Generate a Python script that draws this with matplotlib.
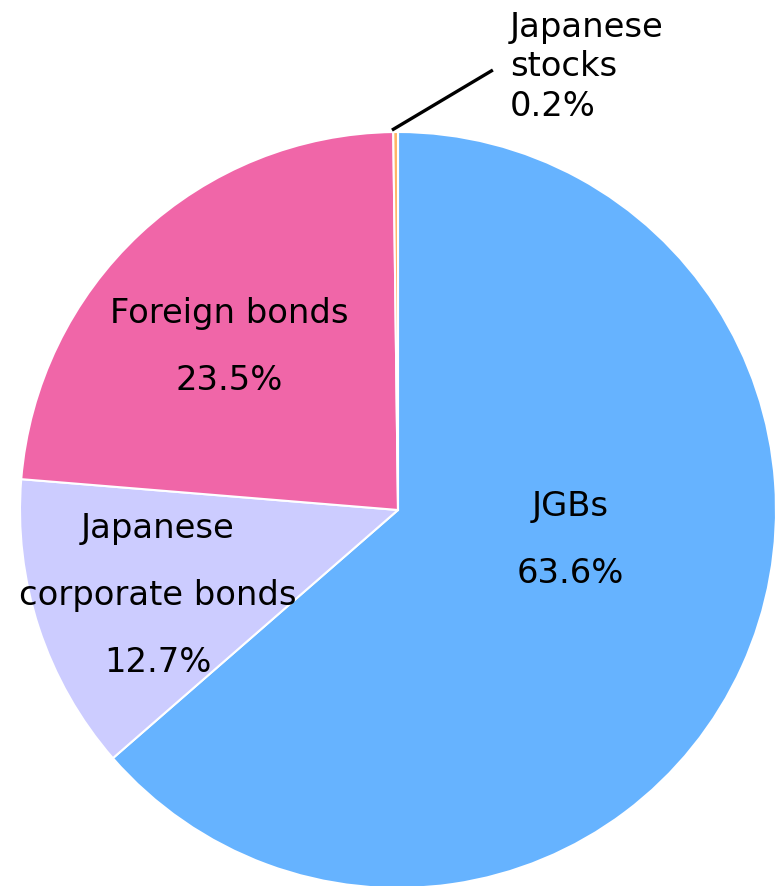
import matplotlib
matplotlib.use("Agg")
import matplotlib.pyplot as plt

# Portfolio composition (percent of total)
categories = ["JGBs", "Japanese\ncorporate bonds", "Foreign bonds", "Japanese\nstocks"]
shares = [63.6, 12.7, 23.5, 0.2]
colors = ["#66B3FF", "#CCCCFF", "#F066A8", "#FFB366"]

W, H = 776, 886
fig = plt.figure(figsize=(W / 100, H / 100), dpi=100)
cx, cy, r = 398, 510, 378
ax = fig.add_axes([(cx - r) / W, (H - cy - r) / H, 2 * r / W, 2 * r / H])
ax.set_aspect("equal")
ax.axis("off")

wedges, _ = ax.pie(shares, colors=colors, startangle=90, counterclock=False,
                   radius=1, center=(0, 0),
                   wedgeprops=dict(edgecolor="white", linewidth=1.5))
ax.set_xlim(-1, 1)
ax.set_ylim(-1, 1)
for w in wedges:
    w.set_clip_on(False)

fs = 24.3
font = "DejaVu Sans"

# In-slice labels: name lines then value
def inside(x, y_top, lines, step=0.177):
    for i, t in enumerate(lines):
        ax.text(x, y_top - i * step, t, ha="center", va="center",
                fontsize=fs, family=font, color="black")

inside(0.455, 0.008, ["JGBs", f"{shares[0]:.1f}%"])
inside(-0.635, -0.05, ["Japanese", "corporate bonds", f"{shares[1]:.1f}%"])
inside(-0.447, 0.52, ["Foreign bonds", f"{shares[2]:.1f}%"])

# Small slice labelled outside with a leader line
ax.plot([-0.016, 0.251], [1.005, 1.164], color="black", lw=2.4,
        solid_capstyle="butt", clip_on=False)
ax.text(0.296, 1.172, f"Japanese\nstocks\n{shares[3]:.1f}%", ha="left", va="center",
        fontsize=fs, family=font, color="black", linespacing=1.24)

fig.savefig("out.png", dpi=100)
